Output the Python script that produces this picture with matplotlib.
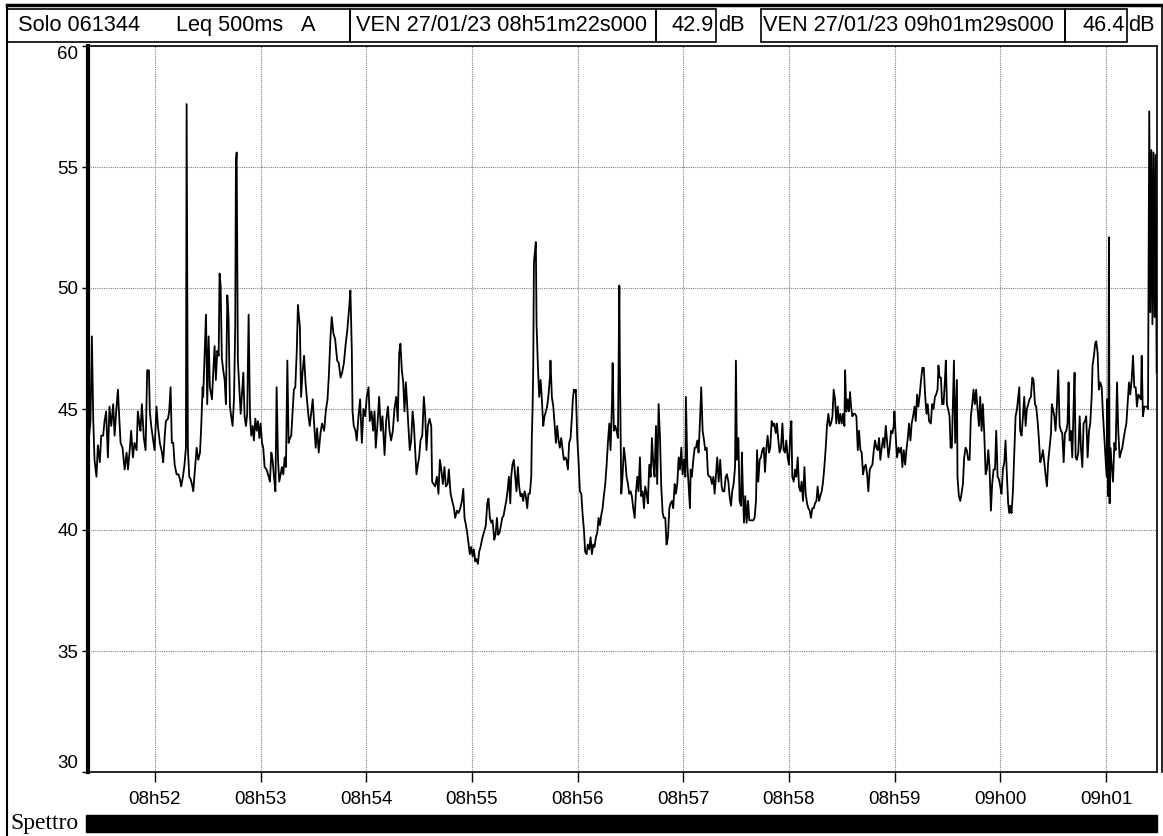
import numpy as np
import matplotlib.pyplot as plt
from matplotlib.patches import Rectangle

# Leq 500ms A, seconds after 08h51m22s, dB
seg_0852 = [(0.0, 44.0), (0.4, 43.7), (1.4, 44.5), (2.2, 48.0), (3.0, 44.5), (3.7, 42.9), (4.8, 42.2),
            (5.6, 43.5), (6.7, 42.8), (7.5, 43.9), (8.6, 43.9), (9.4, 44.5), (10.3, 44.9), (11.3, 43.0),
            (12.2, 45.1), (13.2, 44.3), (14.3, 45.2), (15.1, 43.9), (16.0, 44.9), (17.0, 45.8), (17.7, 44.7),
            (18.5, 43.6), (19.6, 43.4), (20.8, 42.5), (21.9, 43.2), (22.7, 42.5), (23.8, 43.4), (24.5, 44.1),
            (25.5, 43.0), (26.4, 43.6), (27.6, 43.3), (28.3, 44.9), (29.3, 44.3), (29.8, 44.1), (30.6, 45.2),
            (31.7, 43.8), (32.7, 43.3), (33.6, 46.6), (34.6, 46.6), (35.1, 44.9), (35.9, 44.3), (37.0, 43.7),
            (37.8, 43.3), (38.9, 45.1), (39.7, 44.3), (40.8, 43.6), (42.0, 43.2), (42.7, 42.8), (43.5, 43.8),
            (44.2, 44.5), (45.4, 44.6), (46.1, 44.9), (46.9, 45.9), (47.6, 43.6), (48.4, 43.6), (49.2, 42.7),
            (50.3, 42.3), (51.4, 42.3), (52.2, 42.1), (52.9, 41.8), (53.9, 42.2), (54.8, 42.7), (55.6, 43.4),
            (56.0, 57.6), (56.7, 43.4), (57.5, 42.2), (58.3, 42.1), (59.0, 41.9), (59.8, 41.6), (60.5, 42.3),
            (61.7, 43.4), (62.6, 42.9), (63.6, 43.2), (64.3, 44.3), (65.1, 45.9), (65.4, 45.5), (66.2, 47.2),
            (67.0, 48.9), (67.7, 45.2), (68.5, 48.0), (69.2, 45.9), (70.4, 45.4), (71.1, 46.5), (71.9, 47.6),
            (72.6, 46.2), (73.4, 47.4), (74.2, 47.2), (74.7, 50.6), (75.3, 50.1), (76.0, 47.1), (76.8, 46.6),
            (77.6, 46.2), (78.3, 45.2), (79.1, 49.7), (79.8, 48.8), (80.6, 45.1), (81.3, 44.7), (82.1, 44.3),
            (82.9, 45.4), (83.6, 48.4), (84.0, 55.2), (84.4, 55.6), (85.1, 47.0), (85.9, 45.9), (86.7, 44.8),
            (87.4, 45.6), (88.2, 46.5), (88.9, 44.7), (89.7, 44.3), (90.4, 44.8), (91.2, 48.9), (92.0, 44.7),
            (92.7, 43.9), (93.5, 44.3), (94.2, 43.7), (95.0, 44.6), (95.8, 44.1), (96.5, 44.5), (97.3, 43.8),
            (98.0, 44.4), (98.8, 43.6), (99.5, 43.4), (100.3, 42.6), (101.4, 42.5), (102.6, 42.2), (103.3, 42.0),
            (104.1, 43.2), (104.8, 42.9), (105.6, 42.2), (106.4, 41.6), (107.1, 45.9), (107.9, 42.9), (108.6, 42.0),
            (109.4, 42.3), (110.1, 42.6), (110.9, 42.3), (111.7, 43.0), (112.4, 42.6), (113.2, 47.0), (113.9, 43.6),
            (114.7, 43.8), (115.4, 43.9), (116.2, 44.9), (116.9, 45.8), (117.7, 45.9), (118.5, 47.3), (119.2, 49.3)]

seg_0854 = [(120.3, 48.4), (121.0, 45.5), (121.8, 46.5), (122.7, 47.2), (123.5, 46.1), (124.2, 45.5), (125.2, 44.7),
            (125.9, 44.3), (126.7, 44.8), (127.6, 45.4), (128.4, 44.4), (129.3, 43.4), (130.1, 44.2), (131.0, 43.2),
            (132.0, 44.0), (132.9, 44.4), (134.1, 44.1), (135.0, 44.9), (136.0, 45.4), (136.7, 46.3), (137.7, 48.0),
            (138.4, 48.8), (139.4, 48.1), (140.3, 47.9), (141.5, 47.0), (142.4, 46.9), (143.4, 46.3), (144.3, 46.5),
            (145.3, 46.9), (146.2, 47.6), (147.3, 48.3), (148.3, 49.2), (149.0, 49.9), (149.8, 47.4), (150.2, 44.9),
            (150.9, 44.3), (151.9, 44.1), (152.6, 43.7), (153.6, 44.7), (154.5, 45.4), (155.5, 43.6), (156.4, 45.0),
            (157.4, 44.7), (158.3, 45.5), (159.3, 45.9), (160.0, 44.5), (161.0, 44.9), (161.9, 44.1), (162.7, 44.9),
            (163.4, 43.4), (164.4, 44.4), (165.3, 45.5), (166.3, 44.1), (167.2, 44.7), (168.4, 43.1), (169.3, 44.5),
            (170.3, 45.1), (171.2, 44.1), (172.1, 43.7), (173.1, 44.1), (174.0, 45.0), (175.0, 45.5), (175.9, 44.5),
            (176.7, 47.3), (177.4, 47.7), (178.2, 46.6), (179.0, 46.1), (179.7, 44.9), (180.5, 46.1), (181.2, 45.2),
            (182.0, 44.1), (182.7, 43.3), (183.5, 43.7), (184.3, 44.9), (185.0, 44.4), (185.8, 43.3), (186.5, 42.3),
            (187.3, 42.7), (188.0, 43.0), (188.8, 43.7), (189.8, 43.9), (190.7, 45.5), (191.5, 44.7), (192.2, 43.3),
            (193.0, 44.3), (193.9, 44.6), (194.9, 44.3), (195.4, 42.0), (196.2, 41.9), (197.1, 41.8), (198.1, 42.2),
            (199.0, 41.5), (199.8, 42.9), (200.6, 42.5), (201.5, 41.9), (202.4, 42.6), (203.2, 41.8), (204.2, 41.9),
            (204.9, 42.5), (205.9, 41.5), (206.8, 41.2), (207.8, 40.9), (208.5, 40.5), (209.5, 40.8), (210.4, 40.7),
            (211.4, 40.9), (212.3, 41.2), (213.1, 41.7), (213.8, 40.5), (214.6, 40.2), (215.3, 39.9), (216.1, 39.4),
            (216.8, 39.0), (217.6, 39.3), (218.4, 38.9), (219.1, 39.2), (219.9, 38.7), (220.6, 38.8), (221.4, 38.6),
            (222.1, 39.1), (222.9, 39.3), (223.7, 39.6), (224.4, 39.8), (225.2, 40.0), (225.9, 40.2), (226.7, 41.1),
            (227.4, 41.3), (228.2, 40.5), (229.0, 40.3), (229.7, 40.4), (230.7, 39.6), (231.4, 39.8), (232.2, 40.5),
            (232.9, 39.8), (233.7, 39.9), (234.5, 40.2), (235.2, 40.5), (236.0, 40.6), (236.7, 40.9), (237.5, 41.2),
            (238.2, 41.6), (239.0, 42.2), (239.8, 41.1)]

seg_0856 = [(240.3, 42.2), (241.0, 42.7), (241.8, 42.9), (242.6, 42.2), (243.3, 41.6), (244.1, 42.6), (244.8, 41.8),
            (245.6, 41.4), (246.3, 41.5), (247.1, 41.2), (247.9, 41.6), (248.6, 41.4), (249.4, 40.9), (250.1, 41.5),
            (250.9, 41.5), (251.7, 42.2), (252.0, 43.8), (252.4, 44.9), (252.8, 46.6), (253.2, 51.0), (253.5, 51.3),
            (254.3, 51.9), (254.7, 48.5), (255.4, 46.9), (256.2, 45.5), (257.0, 46.2), (257.7, 45.4), (258.5, 44.3),
            (259.2, 44.7), (260.0, 44.9), (260.7, 45.1), (261.5, 45.6), (262.3, 46.3), (262.6, 47.0), (263.4, 45.5),
            (264.2, 45.1), (264.9, 44.4), (265.7, 43.6), (266.4, 44.3), (267.2, 43.7), (267.9, 43.4), (268.7, 43.8),
            (269.5, 43.3), (270.2, 42.9), (271.0, 43.0), (271.7, 42.9), (272.5, 42.5), (273.2, 43.6), (274.0, 43.8),
            (274.8, 44.7), (275.3, 45.4), (275.9, 45.8), (276.5, 45.7), (277.0, 45.8), (277.8, 43.8), (278.5, 42.9),
            (279.3, 41.6), (280.1, 41.5), (280.8, 40.7), (281.6, 40.0), (282.3, 39.1), (283.1, 39.0), (283.8, 39.4),
            (284.6, 39.2), (285.4, 39.7), (286.1, 39.0), (286.9, 39.4), (287.6, 39.3), (288.4, 39.7), (289.2, 39.9),
            (289.9, 40.5), (290.7, 40.2), (291.4, 40.6), (292.2, 40.9), (292.9, 41.4), (293.7, 41.9), (294.5, 42.7),
            (295.2, 43.6), (296.0, 44.4), (296.7, 43.3), (297.5, 45.2), (297.9, 46.9), (298.6, 44.1), (299.4, 44.3),
            (300.1, 44.1), (300.9, 43.8), (301.7, 50.1), (302.0, 46.9), (302.8, 41.5), (303.5, 42.2), (304.3, 43.4),
            (305.1, 42.9), (305.8, 42.2), (306.6, 41.9), (307.3, 41.5), (308.1, 41.6), (308.8, 41.4), (309.6, 40.9),
            (310.4, 40.5), (311.1, 41.5), (311.9, 42.2), (312.6, 41.6), (313.4, 43.0), (314.1, 41.4), (314.9, 41.6),
            (315.7, 40.9), (316.4, 41.8), (317.2, 41.5), (317.9, 41.1), (318.7, 42.7), (319.5, 42.2), (320.2, 43.8),
            (321.0, 42.7), (321.7, 42.2), (322.5, 44.3), (323.2, 41.9), (324.0, 45.2), (324.8, 43.8), (325.5, 41.8),
            (326.3, 40.7), (327.0, 40.5), (327.8, 40.5), (328.5, 39.4), (329.3, 39.7), (330.1, 40.9), (330.8, 41.1),
            (331.6, 41.2), (332.3, 40.9), (333.1, 41.9), (333.8, 41.5), (334.6, 41.9), (335.4, 43.0), (336.1, 42.5),
            (336.9, 43.4), (337.6, 42.3), (338.4, 42.9), (339.2, 42.2), (339.5, 45.5), (340.3, 42.7), (341.0, 41.9),
            (341.8, 40.9), (342.2, 42.5), (342.9, 42.2), (343.7, 42.9), (344.5, 43.4), (345.2, 43.4), (346.0, 43.7),
            (346.7, 43.2), (347.5, 44.5), (348.2, 45.9), (349.0, 44.1), (349.8, 43.7), (350.5, 43.3), (351.3, 43.4),
            (352.0, 42.3), (352.8, 42.2), (353.5, 42.2), (354.3, 41.9), (355.1, 42.2), (355.8, 41.5), (356.6, 42.3),
            (357.3, 43.0), (358.1, 42.0)]

seg_0858 = [(359.0, 42.9), (359.8, 41.8), (360.5, 41.6), (361.3, 41.6), (362.1, 42.2), (362.8, 42.3), (363.6, 42.0),
            (364.3, 41.4), (365.1, 41.0), (365.8, 41.6), (366.6, 41.9), (367.4, 42.6), (367.9, 47.0), (368.5, 42.9),
            (369.3, 43.8), (370.0, 41.2), (370.8, 41.0), (371.3, 43.2), (371.9, 41.5), (372.5, 40.3), (373.2, 41.4),
            (374.0, 40.3), (374.8, 41.2), (375.5, 40.4), (376.3, 40.4), (377.0, 40.4), (377.8, 40.4), (378.5, 40.5),
            (379.3, 41.2), (379.9, 43.3), (380.6, 42.0), (381.4, 42.9), (382.1, 43.0), (382.9, 43.3), (383.7, 43.4),
            (384.4, 42.4), (385.2, 43.4), (385.9, 43.9), (386.7, 43.2), (387.4, 43.4), (388.2, 44.5), (389.0, 44.3),
            (389.7, 44.4), (390.5, 44.0), (391.2, 44.4), (392.0, 43.7), (392.7, 43.2), (393.5, 43.4), (394.3, 44.4),
            (395.0, 43.3), (395.8, 43.2), (396.5, 43.7), (397.3, 43.0), (398.0, 42.7), (398.8, 44.0), (399.4, 44.5),
            (399.9, 42.2), (400.7, 42.0), (401.5, 42.5), (402.2, 42.2), (403.0, 43.0), (403.7, 41.8), (404.5, 41.6),
            (405.2, 42.0), (406.0, 41.2), (406.8, 42.6), (407.5, 41.5), (408.3, 41.1), (409.0, 40.9), (409.8, 40.8),
            (410.5, 40.5), (411.3, 40.9), (412.1, 40.9), (412.8, 41.1), (413.6, 41.2), (414.3, 41.8), (415.1, 41.2),
            (415.8, 41.4), (416.6, 41.6), (417.4, 42.0), (418.1, 42.6), (418.9, 43.4), (419.6, 44.3), (420.4, 44.8),
            (421.2, 44.3), (421.9, 44.4), (422.7, 44.7), (423.4, 45.8), (424.2, 45.4), (424.9, 44.4), (425.7, 45.1),
            (426.5, 44.4), (427.2, 44.8), (428.0, 44.4), (428.7, 44.8), (429.5, 44.3), (429.9, 46.6), (430.6, 44.9),
            (431.4, 45.4), (432.1, 44.9), (432.7, 45.7), (433.3, 45.1), (434.0, 44.7), (434.8, 44.8), (435.5, 44.8),
            (436.3, 44.7), (437.1, 43.3), (437.8, 44.1), (438.6, 43.3), (439.3, 43.2), (440.1, 42.3), (440.8, 42.6),
            (441.6, 42.7), (442.4, 42.3), (443.1, 41.6), (443.9, 42.5), (444.6, 42.6), (445.4, 42.7), (446.2, 43.3),
            (446.9, 43.7), (447.7, 43.4), (448.4, 43.3), (449.2, 43.8), (449.9, 42.9), (450.7, 43.4), (451.5, 43.8),
            (452.2, 43.4), (453.0, 44.3), (453.7, 43.7), (454.5, 43.0), (455.2, 43.4), (456.0, 44.1), (456.8, 44.0),
            (457.5, 44.3), (457.9, 44.9), (458.7, 43.8), (459.4, 43.0), (460.2, 43.4), (460.9, 43.2), (461.7, 43.4),
            (462.4, 42.6), (463.2, 43.3), (464.0, 42.7), (464.7, 43.3), (465.5, 43.8), (466.2, 44.4), (467.0, 43.7),
            (467.7, 44.4), (468.5, 44.7), (469.3, 45.1), (470.0, 44.5), (470.8, 45.6), (471.5, 45.1), (472.3, 45.6),
            (473.0, 46.2), (473.8, 46.7), (474.6, 46.7), (475.3, 45.6), (476.1, 44.8), (476.8, 45.2), (477.6, 44.5)]

seg_0900 = [(478.6, 44.4), (479.3, 45.2), (480.1, 45.0), (480.9, 45.5), (481.6, 45.6), (482.4, 45.8), (482.9, 46.8),
            (483.5, 46.3), (484.3, 46.3), (485.0, 45.2), (485.8, 45.2), (486.5, 46.1), (487.1, 47.0), (487.7, 45.2),
            (488.4, 45.0), (489.2, 44.7), (489.8, 43.4), (490.5, 43.4), (491.1, 45.2), (491.7, 47.0), (492.4, 43.6),
            (493.0, 45.1), (493.4, 46.2), (493.7, 42.2), (494.5, 41.4), (495.3, 41.2), (496.0, 41.5), (496.8, 41.9),
            (497.5, 43.0), (498.3, 43.4), (499.0, 43.3), (499.8, 42.9), (500.6, 42.9), (501.3, 44.7), (502.1, 45.2),
            (502.8, 45.8), (503.6, 45.2), (504.3, 45.8), (505.1, 45.0), (505.9, 44.3), (506.6, 45.5), (507.4, 44.1),
            (508.1, 45.2), (508.9, 44.0), (509.7, 42.3), (510.4, 42.5), (511.2, 43.3), (511.9, 42.6), (512.7, 40.8),
            (513.4, 41.9), (514.2, 42.5), (515.0, 42.5), (515.7, 44.1), (516.5, 42.2), (517.2, 42.1), (518.0, 41.8),
            (518.7, 41.5), (519.5, 42.5), (520.3, 42.8), (521.0, 43.7), (521.8, 42.2), (522.5, 41.1), (523.1, 40.7),
            (523.7, 41.0), (524.4, 40.7), (525.2, 41.6), (525.9, 43.0), (526.7, 44.7), (527.5, 45.0), (528.2, 45.5),
            (528.8, 45.9), (529.3, 44.1), (530.1, 43.9), (530.9, 44.7), (531.6, 45.5), (532.4, 44.3), (533.1, 45.0),
            (533.9, 45.2), (534.6, 45.4), (535.4, 45.5), (536.2, 46.3), (536.9, 46.2), (537.7, 45.2), (538.4, 45.1),
            (539.2, 44.5), (539.9, 43.8), (540.7, 42.8), (541.5, 43.0), (542.2, 43.3), (543.0, 42.8), (543.7, 42.3),
            (544.5, 41.8), (545.2, 42.8), (546.0, 43.4), (546.8, 44.0), (547.3, 45.2), (547.9, 45.0), (548.7, 44.7),
            (549.4, 44.1), (550.2, 45.2), (550.9, 46.6), (551.7, 44.3), (552.5, 44.1), (553.2, 44.0), (554.0, 42.8),
            (554.7, 44.0), (555.5, 44.1), (556.2, 44.4), (556.8, 46.1), (557.4, 43.7), (558.1, 44.1), (558.9, 43.0),
            (559.6, 45.0), (560.2, 46.5), (560.8, 43.0), (561.5, 42.9), (562.3, 43.2), (563.1, 44.7), (563.8, 43.4),
            (564.6, 42.6), (565.3, 44.4), (566.1, 44.5), (566.8, 44.7), (567.6, 43.0), (568.4, 44.1), (569.1, 44.4),
            (569.9, 45.5), (570.4, 46.8), (571.2, 47.2), (571.9, 47.7), (572.5, 47.8), (573.3, 47.3), (574.0, 45.8),
            (574.8, 46.1), (575.6, 45.9), (576.3, 44.8), (577.1, 43.8), (577.8, 43.0), (578.4, 42.2), (578.8, 45.4),
            (579.3, 41.4), (579.7, 52.1), (580.1, 41.1), (580.5, 43.4), (581.2, 42.7), (582.0, 42.0), (582.8, 43.6),
            (583.5, 43.3), (584.3, 46.1), (585.0, 44.1), (585.8, 43.0), (586.5, 43.2), (587.3, 43.4), (588.1, 43.8),
            (588.8, 44.1), (589.6, 44.4), (590.3, 45.2), (591.1, 46.1), (591.8, 45.6), (592.6, 46.2), (593.4, 47.2),
            (594.1, 45.9), (594.9, 45.9), (595.6, 45.1), (596.4, 45.6), (597.1, 45.5), (597.9, 45.4), (598.3, 47.2),
            (599.0, 44.7), (599.8, 45.1), (600.5, 45.1), (601.3, 45.1), (601.9, 45.0), (602.6, 57.3), (603.2, 49.0),
            (603.8, 55.7), (604.4, 48.5), (605.0, 55.6), (605.6, 48.8), (606.2, 55.5), (606.8, 46.5)]

minute_secs = [38, 98, 158, 218, 278, 338, 398, 458, 518, 578]
minute_labels = ['08h52', '08h53', '08h54', '08h55', '08h56', '08h57', '08h58', '08h59', '09h00', '09h01']
level_ticks = [30, 35, 40, 45, 50, 55, 60]

pts = np.array(seg_0852 + seg_0854 + seg_0856 + seg_0858 + seg_0900)
secs, levels = pts[:, 0], pts[:, 1]

W, H = 1163, 836
plt.rcParams['font.family'] = ['Liberation Sans', 'DejaVu Sans']
fig = plt.figure(figsize=(W / 100, H / 100), dpi=100)

# page frame, header boxes, drawn in pixel units
pg = fig.add_axes([0, 0, 1, 1])
pg.set_xlim(0, W)
pg.set_ylim(H, 0)
pg.axis('off')
pg.plot([7, 7], [5, H], color='black', lw=1.5)
pg.plot([7, W], [5, 5], color='black', lw=2.5)
pg.plot([1161.5, 1161.5], [5, 772], color='black', lw=1.2)
for x0, x1 in [(7, 350), (350, 656), (656, 716), (761, 1065), (1065, 1127)]:
    pg.add_patch(Rectangle((x0, 9), x1 - x0, 33, fill=False, ec='black', lw=1.2))
hfs = 15.7
ty = 31
pg.text(18, ty, 'Solo 061344', fontsize=hfs, va='baseline')
pg.text(176, ty, 'Leq 500ms', fontsize=hfs, va='baseline')
pg.text(301, ty, 'A', fontsize=hfs, va='baseline')
pg.text(356, ty, 'VEN 27/01/23 08h51m22s000', fontsize=hfs, va='baseline')
pg.text(714, ty, '42.9', fontsize=hfs, va='baseline', ha='right')
pg.text(718, ty, 'dB', fontsize=hfs, va='baseline')
pg.text(763, ty, 'VEN 27/01/23 09h01m29s000', fontsize=hfs, va='baseline')
pg.text(1125, ty, '46.4', fontsize=hfs, va='baseline', ha='right')
pg.text(1128, ty, 'dB', fontsize=hfs, va='baseline')
pg.add_patch(Rectangle((86, 815), 1071, 17, color='black'))
pg.text(10, 824, 'Spettro', fontsize=17, va='center', family='Liberation Serif')

ax = fig.add_axes([88 / W, 64 / H, 1069 / W, 726 / H])
ax.plot(secs, levels, color='black', lw=1.3)
ax.set_xlim(0, 607)
ax.set_ylim(30, 60)
ax.set_xticks(minute_secs)
ax.set_xticklabels(minute_labels, fontsize=13.5)
ax.set_yticks(level_ticks)
ax.set_yticklabels([str(v) for v in level_ticks], fontsize=13.5)
ax.get_yticklabels()[0].set_va('bottom')
ax.get_yticklabels()[-1].set_va('top')
ax.tick_params(axis='x', length=7, width=1, pad=7)
ax.tick_params(axis='y', length=4, width=1, pad=3)
ax.grid(True, color='#808080', linestyle=(0, (1, 1)), lw=0.8)
ax.spines['left'].set_linewidth(3)
for s in ['top', 'right', 'bottom']:
    ax.spines[s].set_linewidth(1.2)

fig.savefig('out.png', dpi=100)
